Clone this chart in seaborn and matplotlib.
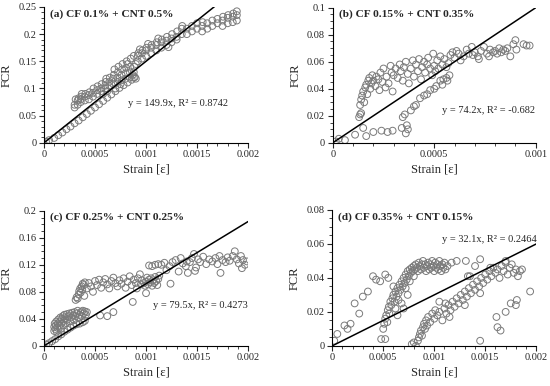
import numpy as np
import matplotlib
matplotlib.use('Agg')
import matplotlib.pyplot as plt
from matplotlib.ticker import AutoMinorLocator, MultipleLocator, FuncFormatter
import seaborn as sns

# Strain in microstrain, FCR as plotted
a_points = [
    # lower chain
    (20, 0.002), (50, 0.005), (100, 0.009), (140, 0.014), (180, 0.019), (220, 0.025),
    (260, 0.030), (300, 0.036), (340, 0.041), (380, 0.047), (420, 0.053), (460, 0.059),
    (500, 0.065), (540, 0.071), (580, 0.077), (620, 0.083), (660, 0.089), (700, 0.095),
    (740, 0.101), (780, 0.106), (820, 0.111), (860, 0.116), (890, 0.121), (870, 0.125),
    (900, 0.118),
    # main band
    (300, 0.065), (300, 0.070), (310, 0.080), (330, 0.070), (330, 0.078), (340, 0.082),
    (360, 0.075), (360, 0.080), (365, 0.085), (370, 0.090), (400, 0.078), (400, 0.085),
    (405, 0.090), (440, 0.080), (440, 0.088), (445, 0.093), (480, 0.085), (480, 0.092),
    (485, 0.100), (520, 0.090), (520, 0.097), (525, 0.104), (560, 0.095), (560, 0.100),
    (565, 0.108), (600, 0.100), (600, 0.105), (605, 0.112), (610, 0.118), (640, 0.105),
    (640, 0.112), (645, 0.120), (680, 0.108), (680, 0.118), (685, 0.125), (690, 0.135),
    (720, 0.112), (720, 0.120), (725, 0.130), (730, 0.140), (760, 0.115), (760, 0.125),
    (765, 0.135), (770, 0.145), (800, 0.118), (800, 0.128), (805, 0.138), (810, 0.150),
    (840, 0.120), (840, 0.130), (845, 0.140), (850, 0.155), (880, 0.120), (880, 0.130),
    (885, 0.140), (880, 0.160), (920, 0.150), (920, 0.160), (925, 0.165), (960, 0.155),
    (960, 0.165), (965, 0.170), (1000, 0.160), (1000, 0.170), (1005, 0.175),
    (1050, 0.165), (1050, 0.175), (1055, 0.180), (1100, 0.170), (1100, 0.180),
    (1105, 0.185), (1150, 0.175), (1150, 0.185), (1155, 0.190), (1200, 0.180),
    (1200, 0.188), (1205, 0.195), (1250, 0.185), (1250, 0.192), (1255, 0.200),
    (1300, 0.190), (1300, 0.195), (1305, 0.205), (1350, 0.200), (1350, 0.210),
    (1355, 0.215), (1400, 0.200), (1400, 0.210), (1450, 0.205), (1450, 0.215),
    (1500, 0.210), (1500, 0.220), (1550, 0.205), (1550, 0.215), (1555, 0.222),
    (1600, 0.210), (1600, 0.220), (1650, 0.215), (1650, 0.225), (1700, 0.220),
    (1700, 0.228), (1750, 0.215), (1750, 0.225), (1755, 0.232), (1800, 0.220),
    (1800, 0.230), (1805, 0.235), (1850, 0.222), (1850, 0.232), (1855, 0.238),
    (1890, 0.225), (1890, 0.235), (1890, 0.242),
    (580, 0.090), (620, 0.095), (700, 0.100), (750, 0.108), (820, 0.145), (900, 0.145),
    (940, 0.172), (1020, 0.182), (1120, 0.192), (1220, 0.176),
]

b_points = [
    # lower branch
    (15, 0.001), (30, 0.003), (60, 0.002), (110, 0.006), (150, 0.011), (165, 0.005),
    (200, 0.008), (240, 0.009), (270, 0.008), (295, 0.009), (340, 0.011), (360, 0.007),
    (365, 0.013), (370, 0.010), (345, 0.019), (355, 0.021), (385, 0.024), (400, 0.027),
    (410, 0.028), (430, 0.033), (450, 0.035), (465, 0.036), (480, 0.039), (500, 0.040),
    (510, 0.042), (530, 0.046), (545, 0.047), (560, 0.048), (575, 0.050), (565, 0.046),
    (540, 0.043),
    # main band
    (130, 0.019), (135, 0.021), (140, 0.022), (135, 0.028), (140, 0.032), (145, 0.035),
    (150, 0.038), (155, 0.030), (160, 0.041), (165, 0.043), (170, 0.036), (175, 0.046),
    (180, 0.048), (185, 0.040), (190, 0.044), (195, 0.050), (200, 0.046), (210, 0.042),
    (215, 0.049), (225, 0.047), (230, 0.039), (235, 0.052), (245, 0.045), (250, 0.055),
    (260, 0.041), (265, 0.049), (275, 0.044), (285, 0.057), (290, 0.052), (295, 0.038),
    (300, 0.050), (310, 0.055), (320, 0.048), (330, 0.058), (335, 0.053), (345, 0.046),
    (350, 0.056), (360, 0.060), (370, 0.051), (375, 0.044), (385, 0.055), (395, 0.061),
    (400, 0.049), (410, 0.058), (420, 0.053), (425, 0.062), (435, 0.047), (440, 0.056),
    (450, 0.060), (455, 0.052), (465, 0.058), (470, 0.063), (480, 0.055), (490, 0.050),
    (495, 0.066), (500, 0.057), (505, 0.053), (515, 0.061), (520, 0.055), (530, 0.064),
    (540, 0.058), (550, 0.062), (560, 0.056), (570, 0.059), (580, 0.065), (590, 0.067),
    (600, 0.063), (610, 0.068), (620, 0.066), (630, 0.061), (645, 0.064), (660, 0.069),
    (670, 0.066), (685, 0.071), (700, 0.067), (715, 0.064), (730, 0.068), (745, 0.071),
    (760, 0.066), (775, 0.069), (790, 0.067), (800, 0.068), (810, 0.066), (820, 0.070),
    (830, 0.067), (840, 0.069), (850, 0.068), (860, 0.070), (875, 0.064), (890, 0.073),
    (900, 0.076), (905, 0.069), (940, 0.073), (955, 0.072), (970, 0.072), (720, 0.062),
    (770, 0.064), (690, 0.065),
]

c_points = [
    # bottom chain
    (20, 0.002), (50, 0.004), (80, 0.007), (110, 0.010), (140, 0.014), (170, 0.017),
    (200, 0.021), (230, 0.024), (260, 0.027), (290, 0.030), (320, 0.032), (350, 0.033),
    (380, 0.035), (400, 0.037),
    # low cluster
    (100, 0.022), (100, 0.028), (105, 0.033), (110, 0.025), (115, 0.030), (120, 0.036),
    (125, 0.021), (130, 0.027), (135, 0.033), (140, 0.039), (150, 0.030), (155, 0.036),
    (160, 0.042), (165, 0.025), (170, 0.033), (175, 0.040), (185, 0.044), (190, 0.030),
    (195, 0.037), (200, 0.046), (210, 0.041), (215, 0.034), (225, 0.047), (230, 0.039),
    (240, 0.044), (250, 0.048), (255, 0.036), (265, 0.042), (275, 0.049), (285, 0.045),
    (295, 0.038), (300, 0.050), (310, 0.044), (320, 0.048), (330, 0.052), (340, 0.041),
    (350, 0.046), (360, 0.050), (370, 0.044), (380, 0.052), (390, 0.048), (400, 0.051),
    (410, 0.046), (420, 0.050),
    # jump
    (310, 0.068), (320, 0.072), (330, 0.070), (340, 0.076), (345, 0.081), (355, 0.085),
    (360, 0.079), (370, 0.088), (380, 0.092), (375, 0.083), (390, 0.090), (400, 0.094),
    (395, 0.074),
    # middle band
    (420, 0.085), (440, 0.093), (460, 0.088), (480, 0.080), (500, 0.096), (520, 0.090),
    (540, 0.098), (560, 0.086), (580, 0.094), (600, 0.099), (620, 0.091), (640, 0.085),
    (660, 0.096), (680, 0.101), (700, 0.093), (720, 0.088), (740, 0.097), (760, 0.092),
    (780, 0.100), (800, 0.086), (820, 0.095), (840, 0.103), (860, 0.090), (880, 0.098),
    (900, 0.093), (910, 0.085), (920, 0.100), (940, 0.106), (950, 0.091), (960, 0.097),
    (980, 0.093), (990, 0.089), (1000, 0.095), (1010, 0.101), (1020, 0.091),
    (1030, 0.098), (1040, 0.094), (1050, 0.100), (1060, 0.089), (1070, 0.097),
    (1080, 0.093), (1090, 0.102), (1100, 0.096), (1110, 0.090), (1120, 0.099),
    (1130, 0.104),
    # upper band
    (1030, 0.119), (1060, 0.118), (1090, 0.120), (1120, 0.121), (1150, 0.120),
    (1180, 0.123), (1200, 0.112), (1230, 0.118), (1260, 0.124), (1290, 0.127),
    (1320, 0.110), (1340, 0.130), (1360, 0.122), (1390, 0.118), (1410, 0.108),
    (1430, 0.124), (1450, 0.130), (1470, 0.136), (1490, 0.116), (1510, 0.128),
    (1530, 0.124), (1560, 0.132), (1590, 0.121), (1620, 0.128), (1650, 0.125),
    (1680, 0.130), (1700, 0.121), (1720, 0.133), (1750, 0.127), (1780, 0.124),
    (1800, 0.131), (1820, 0.126), (1850, 0.133), (1870, 0.140), (1890, 0.128),
    (1910, 0.122), (1930, 0.133), (1950, 0.127), (1970, 0.120), (1990, 0.125),
    (1400, 0.125), (1480, 0.111), (1940, 0.115),
    # stray points
    (550, 0.045), (620, 0.044), (680, 0.050), (870, 0.065), (1000, 0.078),
    (1240, 0.092), (1730, 0.108),
]

d_points = [
    # early scatter
    (20, 0.003), (50, 0.007), (120, 0.012), (150, 0.010), (180, 0.013), (220, 0.025),
    (265, 0.019), (300, 0.029), (350, 0.032), (400, 0.041), (430, 0.039), (470, 0.038),
    (520, 0.042), (550, 0.040), (480, 0.004), (520, 0.004),
    # first arc
    (500, 0.010), (510, 0.013), (520, 0.016), (530, 0.018), (540, 0.014), (545, 0.021),
    (555, 0.023), (560, 0.019), (570, 0.026), (580, 0.024), (590, 0.028), (600, 0.030),
    (610, 0.026), (620, 0.032), (630, 0.029), (640, 0.034), (650, 0.031), (660, 0.036),
    (670, 0.033), (680, 0.038), (690, 0.035), (700, 0.040), (710, 0.037), (720, 0.042),
    (730, 0.039), (740, 0.044), (750, 0.041), (760, 0.045), (770, 0.043), (780, 0.046),
    (790, 0.044), (800, 0.047), (810, 0.045), (820, 0.048), (830, 0.046), (840, 0.044),
    (850, 0.049), (860, 0.047), (870, 0.045), (880, 0.048), (890, 0.050), (900, 0.046),
    (910, 0.048), (920, 0.044), (930, 0.047), (940, 0.049), (950, 0.045), (960, 0.048),
    (970, 0.046), (980, 0.050), (990, 0.047), (1000, 0.044), (1010, 0.049),
    (1020, 0.046), (1030, 0.048), (1040, 0.045), (1050, 0.050), (1060, 0.047),
    (1070, 0.044), (1080, 0.048), (1090, 0.046), (1100, 0.049), (1110, 0.045),
    (1130, 0.047), (1170, 0.049), (620, 0.022), (640, 0.018), (680, 0.025), (700, 0.022),
    (600, 0.035), (650, 0.027), (720, 0.034), (760, 0.038), (800, 0.041), (740, 0.030),
    # second arc
    (780, 0.001), (800, 0.002), (820, 0.000), (840, 0.003), (850, 0.005), (860, 0.007),
    (870, 0.009), (880, 0.006), (890, 0.011), (900, 0.013), (910, 0.010), (920, 0.015),
    (930, 0.012), (940, 0.017), (960, 0.014), (980, 0.019), (1000, 0.016), (1010, 0.021),
    (1030, 0.018), (1050, 0.020), (1080, 0.015), (1100, 0.022), (1120, 0.019),
    (1140, 0.024), (1160, 0.021), (1180, 0.026), (1200, 0.023), (1220, 0.028),
    (1240, 0.025), (1260, 0.030), (1280, 0.027), (1300, 0.032), (1320, 0.029),
    (1340, 0.034), (1360, 0.031), (1380, 0.036), (1400, 0.033), (1420, 0.038),
    (1440, 0.035), (1460, 0.040), (1480, 0.037), (1500, 0.042), (1520, 0.039),
    (1540, 0.044), (1560, 0.041), (1580, 0.046), (1600, 0.043), (1620, 0.045),
    (1640, 0.040), (1660, 0.047), (1680, 0.044), (1700, 0.049), (1720, 0.042),
    (1740, 0.046), (1760, 0.048), (1780, 0.043), (1800, 0.045), (1820, 0.041),
    (1840, 0.044), (1860, 0.045), (1050, 0.026), (1110, 0.025), (1150, 0.017),
    (1300, 0.024), (1330, 0.041), (1450, 0.031),
    # stray points
    (1450, 0.003), (1610, 0.017), (1620, 0.011), (1650, 0.009), (1700, 0.020),
    (1750, 0.025), (1810, 0.027), (1800, 0.024), (1940, 0.032), (1450, 0.051),
    (1220, 0.050), (1310, 0.050), (1400, 0.047), (1550, 0.046), (1700, 0.050),
    (1350, 0.041),
]

panel_titles = ['(a) CF 0.1% + CNT 0.5%', '(b) CF 0.15% + CNT 0.35%',
                '(c) CF 0.25% + CNT 0.25%', '(d) CF 0.35% + CNT 0.15%']
fit_labels = ['y = 149.9x, R² = 0.8742', 'y = 74.2x, R² = -0.682',
              'y = 79.5x, R² = 0.4273', 'y = 32.1x, R² = 0.2464']
line_slopes = [150, 100, 92, 30]   # slope of the drawn line as it appears
x_max = [0.002, 0.001, 0.002, 0.002]
y_max = [0.25, 0.1, 0.2, 0.08]
y_step = [0.05, 0.02, 0.04, 0.02]

sns.set_style('ticks')
plt.rcParams['font.family'] = ['Liberation Serif', 'DejaVu Serif']

fig = plt.figure(figsize=(5.5, 3.86), dpi=100)
boxes = [
    [0.080, 0.630, 0.371, 0.352],
    [0.605, 0.630, 0.369, 0.350],
    [0.080, 0.104, 0.371, 0.350],
    [0.604, 0.104, 0.371, 0.352],
]
fit_pos = [(0.41, 0.29, 'left'), (0.54, 0.24, 'left'), (1.0, 0.30, 'right'), (1.0, 0.78, 'right')]

fmt = FuncFormatter(lambda v, p: '0' if abs(v) < 1e-12 else f'{v:g}')

for i, pts in enumerate([a_points, b_points, c_points, d_points]):
    ax = fig.add_axes(boxes[i])
    arr = np.array(pts)
    strain = arr[:, 0] * 1e-6
    fcr = arr[:, 1]
    sns.scatterplot(x=strain, y=fcr, ax=ax, marker='o', s=24,
                    facecolor='none', edgecolor='#7a7a7a', linewidth=0.7,
                    zorder=2)
    xs = np.array([0, x_max[i]])
    ax.plot(xs, line_slopes[i] * xs, color='black', lw=1.1, zorder=3)

    ax.set_xlim(0, x_max[i])
    ax.set_ylim(0, y_max[i])
    ax.xaxis.set_major_locator(MultipleLocator(0.0005))
    ax.yaxis.set_major_locator(MultipleLocator(y_step[i]))
    ax.xaxis.set_minor_locator(AutoMinorLocator(5))
    ax.yaxis.set_minor_locator(AutoMinorLocator(5 if i == 0 else 4))
    ax.xaxis.set_major_formatter(fmt)
    ax.yaxis.set_major_formatter(fmt)
    ax.tick_params(which='major', direction='out', length=3.5, width=0.8, labelsize=7.5, pad=2)
    ax.tick_params(which='minor', direction='out', length=2, width=0.6)
    for s in ['top', 'right']:
        ax.spines[s].set_visible(False)
    for s in ['left', 'bottom']:
        ax.spines[s].set_linewidth(0.8)
        ax.spines[s].set_color('black')

    ax.set_xlabel('Strain [ε]', fontsize=9, labelpad=3)
    ax.set_ylabel('FCR', fontsize=9, labelpad=4)
    ax.text(0.03, 0.95, panel_titles[i], transform=ax.transAxes, fontsize=8.2,
            fontweight='bold', ha='left', va='center')
    fx, fy, ha = fit_pos[i]
    ax.text(fx, fy, fit_labels[i], transform=ax.transAxes, fontsize=7.5,
            ha=ha, va='center')

fig.savefig('out.png', dpi=100)
